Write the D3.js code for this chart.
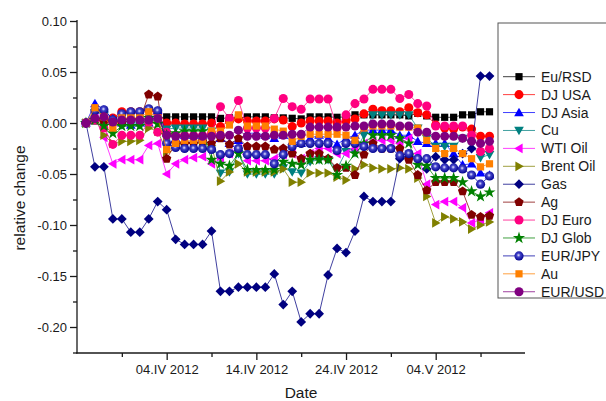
<!DOCTYPE html>
<html>
<head>
<meta charset="utf-8">
<script src="https://cdn.jsdelivr.net/npm/d3@7"></script>
<style>
  body { margin: 0; background: #fff; }
  svg { display: block; }
  text { font-family: "Liberation Sans", Arial, sans-serif; fill: #1a1a1a; }
</style>
</head>
<body>
<svg id="chart" width="606" height="401"></svg>
<script>
// Trading days (one point per calendar day, 26.III – 10.V 2012)
const dates = [
  "2012-03-26","2012-03-27","2012-03-28","2012-03-29","2012-03-30","2012-03-31",
  "2012-04-01","2012-04-02","2012-04-03","2012-04-04","2012-04-05","2012-04-06",
  "2012-04-07","2012-04-08","2012-04-09","2012-04-10","2012-04-11","2012-04-12",
  "2012-04-13","2012-04-14","2012-04-15","2012-04-16","2012-04-17","2012-04-18",
  "2012-04-19","2012-04-20","2012-04-21","2012-04-22","2012-04-23","2012-04-24",
  "2012-04-25","2012-04-26","2012-04-27","2012-04-28","2012-04-29","2012-04-30",
  "2012-05-01","2012-05-02","2012-05-03","2012-05-04","2012-05-05","2012-05-06",
  "2012-05-07","2012-05-08","2012-05-09","2012-05-10"
];

// Relative change of each instrument
const euRsd = [0,0.002,0.002,0.003,0.003,0.004,0.004,0.004,0.005,0.006,0.006,0.006,0.006,0.006,0.006,0.0045,0.005,0.005,0.006,0.006,0.006,0.005,0.005,0.0046,0.004,0.006,0.006,0.006,0.0056,0.006,0.008,0.008,0.008,0.008,0.008,0.008,0.007,0.0095,0.007,0.0056,0.0056,0.0056,0.008,0.008,0.011,0.011];
const djUsa = [0,0.004,0.003,0.005,0.011,0.011,0.011,0.013,0.010,0.000,0.000,-0.001,-0.001,-0.001,0.000,-0.0035,0.002,0.004,0.002,0.002,0.002,0.004,0.003,-0.0035,0.000,0.002,0.002,0.002,0.000,0.002,0.004,0.009,0.0135,0.012,0.012,0.011,0.015,0.010,0.008,-0.002,-0.005,-0.006,-0.004,-0.006,-0.013,-0.013];
const djAsia = [0,0.019,0.013,0.004,0.000,-0.002,0.000,0.000,0.012,-0.010,-0.015,-0.012,-0.012,-0.012,-0.010,-0.015,-0.020,-0.017,-0.010,-0.010,-0.012,-0.015,-0.012,-0.018,-0.020,-0.015,-0.012,-0.015,-0.021,-0.015,-0.012,-0.007,-0.007,-0.007,-0.007,-0.012,-0.012,-0.018,-0.020,-0.020,-0.020,-0.030,-0.041,-0.040,-0.049,-0.051];
const cu = [0,0.010,0.008,-0.003,-0.002,-0.002,-0.002,0.000,0.000,-0.006,-0.005,-0.005,-0.005,-0.005,-0.008,-0.049,-0.048,-0.030,-0.050,-0.050,-0.050,-0.050,-0.044,-0.048,-0.049,-0.038,-0.036,-0.036,-0.045,-0.028,-0.029,-0.012,0.008,0.008,0.008,0.008,0.008,-0.005,-0.015,-0.023,-0.023,-0.023,-0.015,-0.020,-0.034,-0.031];
const wtiOil = [0,0.005,-0.014,-0.040,-0.036,-0.036,-0.036,-0.022,-0.020,-0.050,-0.040,-0.036,-0.034,-0.033,-0.040,-0.035,-0.030,-0.025,-0.037,-0.037,-0.037,-0.035,-0.031,-0.030,-0.035,-0.030,-0.025,-0.025,-0.030,-0.030,-0.025,-0.020,-0.018,-0.017,-0.017,-0.020,-0.015,-0.030,-0.060,-0.080,-0.077,-0.077,-0.083,-0.098,-0.095,-0.088];
const brentOil = [0,0.005,-0.012,-0.020,-0.018,-0.018,-0.017,-0.005,-0.008,-0.028,-0.022,-0.020,-0.020,-0.020,-0.022,-0.057,-0.048,-0.040,-0.048,-0.048,-0.048,-0.048,-0.045,-0.058,-0.058,-0.049,-0.049,-0.049,-0.053,-0.056,-0.045,-0.041,-0.044,-0.045,-0.045,-0.044,-0.045,-0.054,-0.072,-0.098,-0.092,-0.094,-0.097,-0.104,-0.100,-0.097];
const gas = [0,-0.043,-0.043,-0.094,-0.094,-0.107,-0.107,-0.094,-0.077,-0.085,-0.114,-0.119,-0.119,-0.119,-0.106,-0.165,-0.165,-0.161,-0.161,-0.161,-0.161,-0.148,-0.178,-0.165,-0.195,-0.187,-0.187,-0.149,-0.123,-0.127,-0.106,-0.072,-0.077,-0.077,-0.077,-0.035,-0.033,-0.035,-0.045,-0.033,-0.036,-0.036,-0.030,-0.025,0.046,0.046];
const ag = [0,0.003,0.002,0.000,0.000,0.003,0.003,0.028,0.026,-0.035,-0.020,-0.020,-0.020,-0.018,-0.020,-0.015,-0.021,-0.015,-0.023,-0.023,-0.023,-0.026,-0.025,-0.030,-0.035,-0.030,-0.030,-0.035,-0.044,-0.044,-0.051,-0.031,-0.020,-0.025,-0.025,-0.025,-0.036,-0.051,-0.066,-0.058,-0.058,-0.058,-0.067,-0.090,-0.092,-0.091];
const djEuro = [0,0.003,-0.005,-0.021,-0.012,-0.012,-0.012,0.001,-0.009,-0.009,-0.012,-0.012,-0.012,-0.012,-0.010,0.016,0.0045,0.022,-0.005,-0.005,-0.005,0.0045,0.024,0.016,0.0134,0.0235,0.0235,0.0235,-0.005,0.008,0.019,0.0235,0.033,0.033,0.033,0.024,0.028,0.019,0.0167,-0.003,-0.003,-0.003,-0.003,-0.012,-0.028,-0.025];
const djGlob = [0,0.003,-0.003,-0.010,-0.003,-0.003,-0.003,0.005,-0.001,-0.012,-0.010,-0.008,-0.008,-0.008,-0.036,-0.040,-0.042,-0.030,-0.046,-0.046,-0.046,-0.046,-0.038,-0.040,-0.041,-0.036,-0.036,-0.036,-0.051,-0.042,-0.030,-0.020,-0.012,-0.012,-0.012,-0.015,-0.020,-0.041,-0.042,-0.054,-0.054,-0.054,-0.058,-0.067,-0.072,-0.068];
const eurJpy = [0,0.012,0.013,0.003,0.009,0.011,0.011,0.014,0.012,-0.020,-0.024,-0.025,-0.025,-0.025,-0.026,-0.031,-0.030,-0.025,-0.031,-0.031,-0.031,-0.040,-0.031,-0.023,-0.020,-0.020,-0.020,-0.020,-0.027,-0.020,-0.020,-0.023,-0.025,-0.025,-0.025,-0.032,-0.030,-0.035,-0.035,-0.043,-0.044,-0.044,-0.045,-0.051,-0.060,-0.052];
const au = [0,0.015,0.006,-0.005,0.005,0.005,0.005,0.011,0.005,-0.026,-0.020,-0.017,-0.017,-0.017,-0.008,-0.008,-0.002,0.008,-0.003,-0.003,-0.003,-0.006,-0.008,-0.018,-0.013,-0.011,-0.011,-0.011,-0.011,-0.012,-0.017,-0.005,-0.003,-0.003,-0.003,-0.004,-0.004,-0.005,-0.017,-0.025,-0.030,-0.025,-0.030,-0.035,-0.043,-0.040];
const eurUsd = [0,0.0045,0.006,0.001,0.003,0.003,0.003,0.003,0.0045,-0.012,-0.013,-0.013,-0.013,-0.013,-0.013,-0.012,-0.012,-0.007,-0.013,-0.013,-0.013,-0.012,-0.012,-0.011,-0.011,-0.004,-0.004,-0.004,-0.004,-0.004,-0.003,-0.003,-0.001,-0.001,-0.001,-0.003,-0.003,-0.009,-0.009,-0.013,-0.013,-0.013,-0.015,-0.018,-0.020,-0.018];

const seriesNames = ["Eu/RSD","DJ USA","DJ Asia","Cu","WTI Oil","Brent Oil","Gas","Ag","DJ Euro","DJ Glob","EUR/JPY","Au","EUR/USD"];
const seriesValues = [euRsd, djUsa, djAsia, cu, wtiOil, brentOil, gas, ag, djEuro, djGlob, eurJpy, au, eurUsd];

const yTicks = [0.10, 0.05, 0.00, -0.05, -0.10, -0.15, -0.20];
const yMinorTicks = [0.075, 0.025, -0.025, -0.075, -0.125, -0.175, -0.225];
const xTicks = ["2012-04-04","2012-04-14","2012-04-24","2012-05-04"];
const xMinorTicks = ["2012-03-30","2012-04-09","2012-04-19","2012-04-29","2012-05-09"];

// ---- marker shapes ----
function polygonSymbol(points) {
  return { draw(ctx) { points.forEach(([px, py], i) => i ? ctx.lineTo(px, py) : ctx.moveTo(px, py)); ctx.closePath(); } };
}
function regular(n, r, startDeg) {
  return d3.range(n).map(k => {
    const a = (startDeg + k * 360 / n) * Math.PI / 180;
    return [r * Math.cos(a), r * Math.sin(a)];
  });
}
const shapes = {
  square: polygonSymbol([[-3.6,-3.6],[3.6,-3.6],[3.6,3.6],[-3.6,3.6]]),
  circle: d3.symbolCircle,
  triUp: polygonSymbol(regular(3, 5.6, -90).map(([a,b]) => [a, b + 0.8])),
  triDown: polygonSymbol(regular(3, 5.6, 90).map(([a,b]) => [a, b - 0.8])),
  triLeft: polygonSymbol(regular(3, 5.6, 180).map(([a,b]) => [a + 0.8, b])),
  triRight: polygonSymbol(regular(3, 5.6, 0).map(([a,b]) => [a - 0.8, b])),
  diamond: polygonSymbol([[0,-4.9],[4.9,0],[0,4.9],[-4.9,0]]),
  pentagon: polygonSymbol(regular(5, 4.9, -90)),
  star: d3.symbolStar,
  sphere: d3.symbolCircle
};

const styles = [
  { color: "#000000", shape: "square" },
  { color: "#ff0000", shape: "circle" },
  { color: "#0000ff", shape: "triUp" },
  { color: "#008080", shape: "triDown" },
  { color: "#ff00ff", shape: "triLeft" },
  { color: "#808000", shape: "triRight" },
  { color: "#000080", shape: "diamond" },
  { color: "#800000", shape: "pentagon" },
  { color: "#ff0080", shape: "circle" },
  { color: "#008000", shape: "star" },
  { color: "#0000a0", shape: "sphere" },
  { color: "#ff8000", shape: "square" },
  { color: "#800080", shape: "circle" }
];
const symbolSize = { circle: 64, star: 46, sphere: 66 };

const svg = d3.select("#chart");
const defs = svg.append("defs");
const grad = defs.append("radialGradient").attr("id", "sphereFill")
  .attr("cx", "45%").attr("cy", "42%").attr("r", "60%");
grad.append("stop").attr("offset", "0%").attr("stop-color", "#e8e8ff");
grad.append("stop").attr("offset", "35%").attr("stop-color", "#4040c8");
grad.append("stop").attr("offset", "100%").attr("stop-color", "#00008a");

const parse = d3.utcParse("%Y-%m-%d");
const x = d3.scaleUtc()
  .domain([parse("2012-03-25"), new Date(Date.UTC(2012, 4, 13, 23))])
  .range([77, 525]);
const y = d3.scaleLinear().domain([-0.225, 0.10]).range([352.5, 21]);

const roman = ["I","II","III","IV","V","VI","VII","VIII","IX","X","XI","XII"];
const fmtDate = d => d3.utcFormat("%d")(d) + "." + roman[d.getUTCMonth()] + " " + d.getUTCFullYear();

// ---- data series ----
const plot = svg.append("g");
seriesValues.forEach((vals, si) => {
  const st = styles[si];
  const pts = vals.map((v, i) => [x(parse(dates[i])), y(v)]);
  const g = plot.append("g");
  g.append("path")
    .attr("d", d3.line()(pts))
    .attr("fill", "none")
    .attr("stroke", st.color)
    .attr("stroke-opacity", 0.75)
    .attr("stroke-width", 1);
  const sym = d3.symbol(shapes[st.shape], symbolSize[st.shape] || 64);
  g.selectAll("path.m").data(pts).join("path")
    .attr("class", "m")
    .attr("d", sym)
    .attr("transform", d => `translate(${d[0]},${d[1]})`)
    .attr("fill", st.shape === "sphere" ? "url(#sphereFill)" : st.color);
});

// ---- axes ----
const axisColor = "#1a1a1a";
const yAxis = svg.append("g").attr("transform", "translate(77,0)")
  .call(d3.axisLeft(y).tickValues(yTicks).tickSize(7).tickPadding(3)
    .tickFormat(d => d.toFixed(2)));
svg.append("g").attr("transform", "translate(77,0)")
  .call(d3.axisLeft(y).tickValues(yMinorTicks).tickSize(4).tickFormat(""))
  .select(".domain").remove();
yAxis.select(".domain").attr("d", "M0,20V353.5");

const xAxis = svg.append("g").attr("transform", "translate(0,353)")
  .call(d3.axisBottom(x).tickValues(xTicks.map(parse)).tickSize(7).tickPadding(5)
    .tickFormat(fmtDate));
svg.append("g").attr("transform", "translate(0,353)")
  .call(d3.axisBottom(x).tickValues(xMinorTicks.map(parse)).tickSize(4).tickFormat(""))
  .select(".domain").remove();
xAxis.select(".domain").attr("d", "M76.3,0H525");

svg.selectAll(".tick line, .domain").attr("stroke", axisColor).attr("stroke-width", 1.3);
svg.selectAll(".tick text").attr("font-size", 13)
  .attr("font-family", "'Liberation Sans', Arial, sans-serif").attr("fill", "#1a1a1a");

svg.append("text").attr("transform", "translate(25,198) rotate(-90)")
  .attr("text-anchor", "middle").attr("font-size", 15.5).text("relative change");
svg.append("text").attr("x", 301).attr("y", 398)
  .attr("text-anchor", "middle").attr("font-size", 15.5).text("Date");

// ---- legend ----
const legend = svg.append("g");
legend.append("rect").attr("x", 498).attr("y", 23).attr("width", 130).attr("height", 275)
  .attr("fill", "#fff").attr("stroke", "#555").attr("stroke-width", 1);
seriesNames.forEach((name, si) => {
  const st = styles[si];
  const ry = 76.7 + si * 17.92;
  legend.append("line").attr("x1", 503).attr("x2", 535).attr("y1", ry).attr("y2", ry)
    .attr("stroke", st.color).attr("stroke-opacity", 0.75).attr("stroke-width", 1);
  legend.append("path")
    .attr("d", d3.symbol(shapes[st.shape], symbolSize[st.shape] || 64)())
    .attr("transform", `translate(519,${ry})`)
    .attr("fill", st.shape === "sphere" ? "url(#sphereFill)" : st.color);
  legend.append("text").attr("x", 541).attr("y", ry + 5).attr("font-size", 14).text(name);
});
</script>
</body>
</html>
